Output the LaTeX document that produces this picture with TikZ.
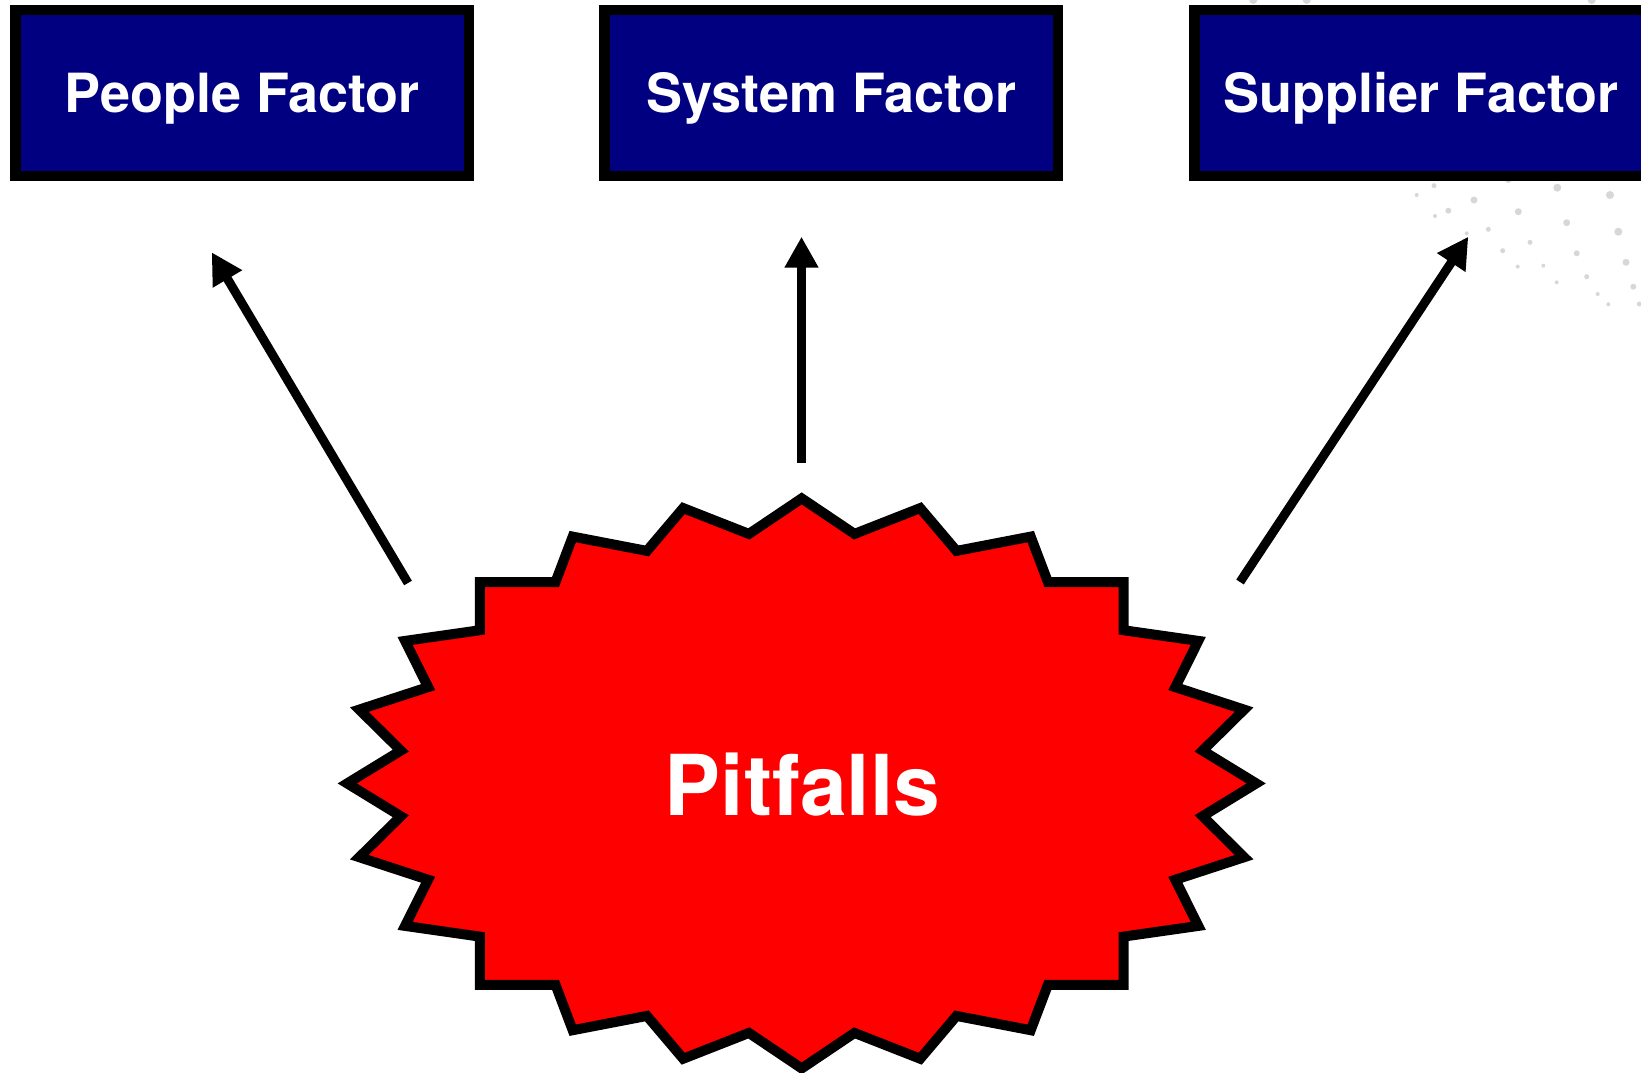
\documentclass[tikz,border=0pt]{standalone}
\usepackage{fontspec}
\setmainfont{TeX Gyre Heros}
\usetikzlibrary{arrows.meta}
\definecolor{boxnavy}{RGB}{0,0,128}
\definecolor{starred}{RGB}{255,0,0}
\definecolor{dotgray}{RGB}{215,215,215}
\begin{document}
\begin{tikzpicture}[x=1pt,y=-1pt,
  factorbox/.style={draw=black, line width=10.5pt, fill=boxnavy,
    minimum width=453.5pt, minimum height=166pt, inner sep=0pt,
    text=white, text height=38.8pt, text depth=0pt,
    font=\bfseries\fontsize{54}{60}\selectfont},
  starbody/.style={draw=black, line width=10pt, fill=starred, line join=miter, miter limit=20},
  bigtext/.style={text=white, inner sep=0pt, text height=60.3pt, text depth=0pt,
    font=\bfseries\fontsize{84}{90}\selectfont},
  arr/.style={line width=9pt, -{Triangle[length=31pt,width=32pt]}},
  bgdot/.style={fill=dotgray, draw=none}]
\path[use as bounding box] (0,0) rectangle (1641,1072);
\clip (0,0) rectangle (1641,1072);

% background dots (top right)
\foreach \px/\py/\r in {1416.7/195/2, 1434/185.7/2.5, 1435/216/2, 1448.3/210.7/3,
  1474/200/3.5, 1466.7/233.3/2, 1488.3/229.3/2.5, 1508.3/180/3, 1518.3/211.7/3.5,
  1530/242.3/2.5, 1502.7/250.7/2.5, 1557.3/187.7/4, 1566.7/222.7/3.5, 1576.7/253.3/3,
  1543.3/265.7/2, 1517.7/266.7/2, 1586.7/276.7/2.5, 1556.7/282.3/2, 1610/195/4,
  1618.3/231.7/4, 1626/262.3/3.5, 1633.3/286.7/3, 1597.7/294/2, 1608.3/304.3/2,
  1639.3/304/2.5, 1253.3/0/4, 1306.7/0/4, 1591.7/0/4}
  \fill[bgdot] (\px,\py) circle[radius=\r];

% factor boxes
\node[factorbox] (people)   at (242.25,93) {People Factor};
\node[factorbox] (system)   at (831.25,93) {System Factor};
\node[factorbox] (supplier) at (1421.25,93) {Supplier Factor};

% 24-point star
\begin{scope}[shift={(801.7,783.4)}]
\draw[starbody]
  (0,-285) -- (52.8,-249.5) -- (118.5,-275.3) -- (154.8,-232.5) -- (229,-246.8)
  -- (246.2,-201.4) -- (321.8,-201.4) -- (321.8,-153.2) -- (396.6,-142.5)
  -- (373.6,-96.3) -- (442.4,-73.8) -- (400.9,-32.8) -- (454.5,0)
  -- (400.9,32.8) -- (442.4,73.8) -- (373.6,96.3) -- (396.6,142.5)
  -- (321.8,153.2) -- (321.8,201.4) -- (246.2,201.4) -- (229,246.8)
  -- (154.8,232.5) -- (118.5,275.3) -- (52.8,249.5) -- (0,285)
  -- (-52.8,249.5) -- (-118.5,275.3) -- (-154.8,232.5) -- (-229,246.8)
  -- (-246.2,201.4) -- (-321.8,201.4) -- (-321.8,153.2) -- (-396.6,142.5)
  -- (-373.6,96.3) -- (-442.4,73.8) -- (-400.9,32.8) -- (-454.5,0)
  -- (-400.9,-32.8) -- (-442.4,-73.8) -- (-373.6,-96.3) -- (-396.6,-142.5)
  -- (-321.8,-153.2) -- (-321.8,-201.4) -- (-246.2,-201.4) -- (-229,-246.8)
  -- (-154.8,-232.5) -- (-118.5,-275.3) -- (-52.8,-249.5) -- cycle;
\end{scope}
\node[bigtext] (pitfalls) at (802.5,785) {Pitfalls};

% arrow ends
\coordinate (tailL) at (408,583);
\coordinate (tipL)  at (211.7,252.3);
\coordinate (tailM) at (801.5,462.6);
\coordinate (tipM)  at (801.5,236.7);
\coordinate (tailR) at (1240,582);
\coordinate (tipR)  at (1468.3,236.7);

\draw[arr] (tailL) -- (tipL);
\draw[arr] (tailM) -- (tipM);
\draw[arr] (tailR) -- (tipR);
\end{tikzpicture}
\end{document}
